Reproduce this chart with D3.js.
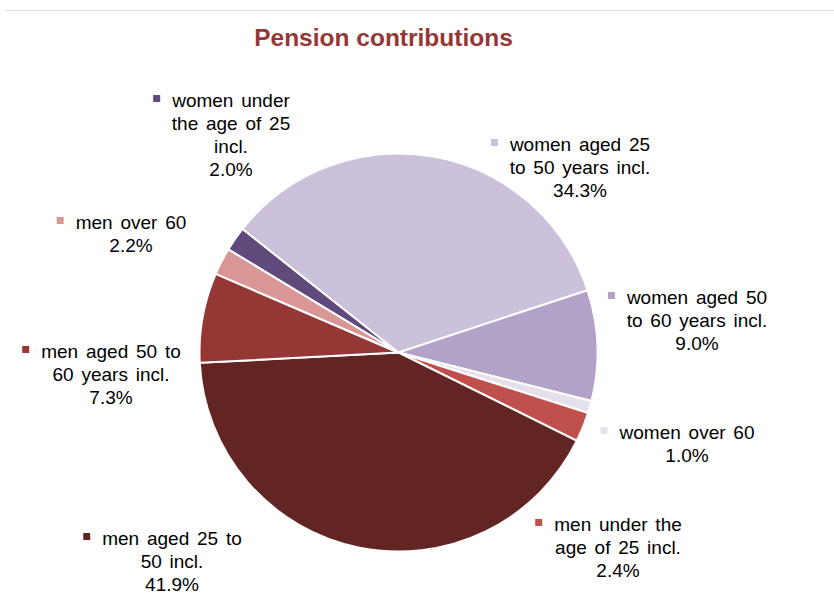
<!DOCTYPE html>
<html>
<head>
<meta charset="utf-8">
<script src="https://cdn.jsdelivr.net/npm/d3@7"></script>
<style>
  body { margin: 0; background: #fff; }
  svg text { font-family: "Liberation Sans", Arial, sans-serif; }
</style>
</head>
<body>
<div id="chart"></div>
<script>
// data
const categories = [
  ["women under", "the age of 25", "incl."],
  ["women aged 25", "to 50 years incl."],
  ["women aged 50", "to 60 years incl."],
  ["women over 60"],
  ["men under the", "age of 25 incl."],
  ["men aged 25 to", "50 incl."],
  ["men aged 50 to", "60 years incl."],
  ["men over 60"]
]
const shares = [2.0, 34.3, 9.0, 1.0, 2.4, 41.9, 7.3, 2.2]
const colors = ["#604A7B", "#CCC1DA", "#B3A2C7", "#E6E0EC", "#C0504D", "#632523", "#953735", "#D99694"]

// label placement (center x, first baseline y)
const labelPos = [
  [231, 107], [580, 151], [697, 304], [687, 439],
  [618, 531], [172, 545], [111, 358], [131, 229]
]

const width = 834, height = 613
const cx = 398.5, cy = 352.5, radius = 199
const startDeg = -58.8

const svg = d3.select("#chart")
  .append("svg")
  .attr("width", width)
  .attr("height", height)

// top border line
svg.append("line")
  .attr("x1", 5).attr("x2", width)
  .attr("y1", 10.5).attr("y2", 10.5)
  .attr("stroke", "#e3e3e3")
  .attr("stroke-width", 1)

svg.append("text")
  .attr("x", 383.5)
  .attr("y", 46)
  .attr("text-anchor", "middle")
  .style("font-size", "24.5px")
  .style("font-weight", "bold")
  .style("fill", "#953735")
  .text("Pension contributions")

const pie = d3.pie()
  .sort(null)
  .value(d => d)
  .startAngle(startDeg * Math.PI / 180)
  .endAngle((startDeg + 360) * Math.PI / 180)

const arc = d3.arc().innerRadius(0).outerRadius(radius)

svg.append("g")
  .attr("transform", `translate(${cx},${cy})`)
  .selectAll("path")
  .data(pie(shares))
  .join("path")
    .attr("d", arc)
    .attr("fill", (d, i) => colors[i])
    .attr("stroke", "#fff")
    .attr("stroke-width", 2)

// labels
const lineH = 23
const labels = svg.append("g")

categories.forEach((lines, i) => {
  const [x, y] = labelPos[i]
  const allLines = lines.concat([d3.format(".1f")(shares[i]) + "%"])
  const t = labels.append("text")
    .attr("text-anchor", "middle")
    .style("font-size", "19px")
    .style("word-spacing", "2.5px")
    .style("fill", "#000")
  allLines.forEach((s, j) => {
    t.append("tspan")
      .attr("x", x)
      .attr("y", y + j * lineH)
      .text(s)
  })
  const firstLen = t.select("tspan").node().getComputedTextLength()
  labels.append("rect")
    .attr("x", x - firstLen / 2 - 19)
    .attr("y", y - 12)
    .attr("width", 7)
    .attr("height", 7)
    .attr("fill", colors[i])
})
</script>
</body>
</html>
